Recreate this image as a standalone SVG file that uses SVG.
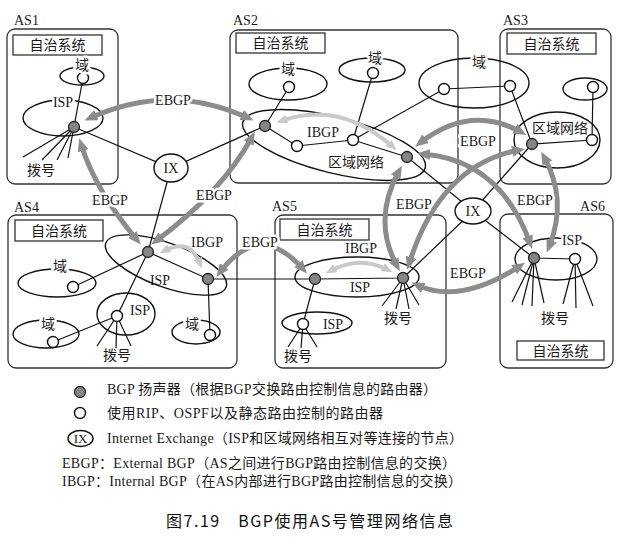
<svg xmlns="http://www.w3.org/2000/svg" width="624" height="538" viewBox="0 0 624 538">
<defs>
<style>
.box{fill:none;stroke:#333;stroke-width:1.3}
.tb{fill:#fff;stroke:#333;stroke-width:1.3}
.el{fill:none;stroke:#111;stroke-width:1.4}
.ln{fill:none;stroke:#111;stroke-width:1.2}
.g{fill:#858585;stroke:#222;stroke-width:1.3}
.o{fill:#fff;stroke:#111;stroke-width:1.4}
.ix{fill:#fff;stroke:#111;stroke-width:1.4}
.eb{fill:none;stroke:#8c8c8c;stroke-width:5}
.ib{fill:none;stroke:#c9c9c9;stroke-width:4}
text{font-family:"Liberation Serif","Noto Sans CJK SC",serif;font-size:14px;fill:#1a1a1a}
.c{text-anchor:middle}
.h{stroke:#fff;stroke-width:5;stroke-linejoin:round;paint-order:stroke}
.cap{font-family:"Noto Sans CJK SC",sans-serif;font-size:16px;fill:#111}
</style>
<marker id="ae" viewBox="0 0 13 11" markerWidth="13" markerHeight="11" refX="7" refY="5.5" orient="auto-start-reverse" markerUnits="userSpaceOnUse"><path d="M0,0L13,5.5L0,11z" fill="#8c8c8c"/></marker>
<marker id="ai" viewBox="0 0 11 9" markerWidth="11" markerHeight="9" refX="6" refY="4.5" orient="auto-start-reverse" markerUnits="userSpaceOnUse"><path d="M0,0L11,4.5L0,9z" fill="#c9c9c9"/></marker>
</defs>
<rect width="624" height="538" fill="#fff"/>

<!-- AS boxes -->
<g id="as1">
<rect class="box" x="7" y="29" width="111" height="155" rx="8"/>
<text x="14" y="25">AS1</text>
<rect class="tb" x="13" y="35" width="89" height="20"/>
<text class="c" x="57.5" y="50">自治系统</text>
</g>
<g id="as2">
<rect class="box" x="230" y="30" width="228" height="153" rx="8"/>
<text x="233" y="25">AS2</text>
<rect class="tb" x="236" y="33" width="89" height="20"/>
<text class="c" x="280.5" y="48">自治系统</text>
</g>
<g id="as3">
<rect class="box" x="500" y="29" width="111" height="155" rx="8"/>
<text x="503" y="25">AS3</text>
<rect class="tb" x="507" y="33" width="89" height="21"/>
<text class="c" x="551.5" y="49">自治系统</text>
</g>
<g id="as4">
<rect class="box" x="8" y="215" width="229" height="153" rx="8"/>
<text x="14" y="212">AS4</text>
<rect class="tb" x="15" y="220" width="88" height="21"/>
<text class="c" x="59" y="236">自治系统</text>
</g>
<g id="as5">
<rect class="box" x="275" y="215" width="171" height="153" rx="8"/>
<text x="272" y="211">AS5</text>
<rect class="tb" x="280" y="219" width="89" height="21"/>
<text class="c" x="324.5" y="235">自治系统</text>
</g>
<g id="as6">
<rect class="box" x="500" y="214" width="113" height="154" rx="8"/>
<text x="605" y="211" text-anchor="end">AS6</text>
<rect class="tb" x="517" y="341" width="87" height="19"/>
<text class="c" x="560.5" y="355.5">自治系统</text>
</g>

<!-- network ellipses -->
<g id="networks">
<ellipse class="el" cx="82" cy="76" rx="22" ry="9"/>
<ellipse class="el" cx="63" cy="118" rx="40" ry="18"/>
<ellipse class="el" cx="288" cy="84" rx="39" ry="16"/>
<ellipse class="el" cx="372" cy="70" rx="33" ry="12"/>
<ellipse class="el" cx="474" cy="83" rx="55" ry="25"/>
<ellipse class="el" cx="334" cy="145" rx="94" ry="28" transform="rotate(14 334 145)"/>
<ellipse class="el" cx="585" cy="89" rx="22" ry="11"/>
<ellipse class="el" cx="557" cy="140" rx="43" ry="28"/>
<ellipse class="el" cx="166" cy="265" rx="64" ry="22" transform="rotate(20 166 265)"/>
<ellipse class="el" cx="57" cy="283" rx="39" ry="14"/>
<ellipse class="el" cx="46" cy="334" rx="33" ry="14"/>
<ellipse class="el" cx="126" cy="314" rx="29" ry="21"/>
<ellipse class="el" cx="196" cy="332" rx="24" ry="12"/>
<ellipse class="el" cx="357" cy="277" rx="62" ry="20"/>
<ellipse class="el" cx="317" cy="323" rx="35" ry="11"/>
<ellipse class="el" cx="556" cy="259" rx="41" ry="21"/>
</g>

<!-- connectors -->
<g id="connectors">
<path class="ln" d="M74,127L83,78M74,127L171,168L265,126M171,168L148,252L117,316
M265,126L289,87M265,126L297,146L353,140L407,157M353,140L373,73M353,140L444,89L510,86L532,144L592,140L593,87
M407,157L473,211L532,144M473,211L534,258L575,259M473,211L403,278
M148,252L208,279L315,279L403,278M148,252L73,287M208,279L210,335M117,316L53,342M315,279L303,324"/>
<path class="ln" d="M74,127L23,157M74,127L42,160M74,127L57,160M74,127L68,158
M117,316L97,346M117,316L116,348M117,316L131,346
M303,324L288,347M303,324L301,348M303,324L317,347
M403,278L382,306M403,278L396,309M403,278L409,309M403,278L419,305
M534,258L512,302M534,258L522,305M534,258L532,306M534,258L544,303
M575,259L563,304M575,259L576,308M575,259L593,306"/>
<!-- EBGP -->
<path class="eb" d="M90,118Q170,82 248,118" marker-start="url(#ae)" marker-end="url(#ae)"/>
<path class="eb" d="M81,144Q95,190 137,240" marker-start="url(#ae)" marker-end="url(#ae)"/>
<path class="eb" d="M252,137Q222,192 156,241" marker-start="url(#ae)" marker-end="url(#ae)"/>
<path class="eb" d="M220,272Q260,220 303,269" marker-start="url(#ae)" marker-end="url(#ae)"/>
<path class="eb" d="M399,171Q372,220 397,266" marker-start="url(#ae)" marker-end="url(#ae)"/>
<path class="eb" d="M420,143Q470,104 521,132" marker-start="url(#ae)" marker-end="url(#ae)"/>
<path class="eb" d="M423,154Q500,160 530,243" marker-start="url(#ae)" marker-end="url(#ae)"/>
<path class="eb" d="M519,150Q440,165 409,264" marker-start="url(#ae)" marker-end="url(#ae)"/>
<path class="eb" d="M544,157Q568,200 549,247" marker-start="url(#ae)" marker-end="url(#ae)"/>
<path class="eb" d="M417,285Q460,305 520,266" marker-start="url(#ae)" marker-end="url(#ae)"/>
<!-- IBGP -->
<path class="ib" d="M281,121Q340,100 393,147" marker-start="url(#ai)" marker-end="url(#ai)"/>
<path class="ib" d="M164,251Q190,237 200,264" marker-start="url(#ai)" marker-end="url(#ai)"/>
<path class="ib" d="M330,271Q360,255 388,270" marker-start="url(#ai)" marker-end="url(#ai)"/>
</g>

<!-- routers -->
<g id="ix1"><ellipse class="ix" cx="171" cy="168" rx="17" ry="14"/><text class="c" x="171" y="173">IX</text></g>
<g id="ix2"><ellipse class="ix" cx="473" cy="211" rx="18" ry="13"/><text class="c" x="473" y="216">IX</text></g>
<g id="as1-bgp"><circle class="g" cx="74" cy="127" r="5.5"/></g>
<g id="as1-r1"><circle class="o" cx="83" cy="78" r="5.5"/></g>
<g id="as2-bgp1"><circle class="g" cx="265" cy="126" r="5.5"/></g>
<g id="as2-bgp2"><circle class="g" cx="407" cy="157" r="5.5"/></g>
<g id="as2-r1"><circle class="o" cx="297" cy="146" r="5.5"/></g>
<g id="as2-r2"><circle class="o" cx="353" cy="140" r="5.5"/></g>
<g id="as2-r3"><circle class="o" cx="289" cy="87" r="5.5"/></g>
<g id="as2-r4"><circle class="o" cx="373" cy="73" r="5.5"/></g>
<g id="as2-r5"><circle class="o" cx="444" cy="89" r="5.5"/></g>
<g id="as3-bgp"><circle class="g" cx="532" cy="144" r="5.5"/></g>
<g id="as3-r1"><circle class="o" cx="592" cy="140" r="5.5"/></g>
<g id="as3-r2"><circle class="o" cx="593" cy="87" r="5.5"/></g>
<g id="as3-r3"><circle class="o" cx="510" cy="86" r="5.5"/></g>
<g id="as4-bgp1"><circle class="g" cx="148" cy="252" r="5.5"/></g>
<g id="as4-bgp2"><circle class="g" cx="208" cy="279" r="5.5"/></g>
<g id="as4-r1"><circle class="o" cx="73" cy="287" r="5.5"/></g>
<g id="as4-r2"><circle class="o" cx="53" cy="342" r="5.5"/></g>
<g id="as4-r3"><circle class="o" cx="117" cy="316" r="5.5"/></g>
<g id="as4-r4"><circle class="o" cx="210" cy="335" r="5.5"/></g>
<g id="as5-bgp1"><circle class="g" cx="315" cy="279" r="5.5"/></g>
<g id="as5-bgp2"><circle class="g" cx="403" cy="278" r="5.5"/></g>
<g id="as5-r1"><circle class="o" cx="303" cy="324" r="5.5"/></g>
<g id="as6-bgp"><circle class="g" cx="534" cy="258" r="5.5"/></g>
<g id="as6-r1"><circle class="o" cx="575" cy="259" r="5.5"/></g>

<!-- labels -->
<g id="labels">
<text class="c h" x="82" y="70">域</text>
<text class="c h" x="63" y="107">ISP</text>
<text class="c" x="41" y="175">拨号</text>
<text class="c h" x="288" y="74">域</text>
<text class="c h" x="375" y="63">域</text>
<text class="c h" x="479" y="67">域</text>
<text class="c" x="323" y="137">IBGP</text>
<text class="c" x="356" y="167">区域网络</text>
<text class="c" x="560" y="133">区域网络</text>
<text class="c" x="207" y="247">IBGP</text>
<text class="c" x="160" y="285">ISP</text>
<text class="c h" x="60" y="271">域</text>
<text class="c h" x="48" y="329">域</text>
<text class="c" x="140" y="315">ISP</text>
<text class="c h" x="192" y="329">域</text>
<text class="c" x="117" y="360">拨号</text>
<text class="c" x="361" y="253">IBGP</text>
<text class="c" x="360" y="292">ISP</text>
<text class="c" x="333" y="329">ISP</text>
<text class="c" x="298" y="361">拨号</text>
<text class="c" x="398" y="323">拨号</text>
<text class="c h" x="572" y="245">ISP</text>
<text class="c" x="555" y="323">拨号</text>
<text class="c h" x="173" y="105">EBGP</text>
<text class="c h" x="110" y="205">EBGP</text>
<text class="c h" x="214" y="200">EBGP</text>
<text class="c h" x="260" y="247">EBGP</text>
<text class="c h" x="414" y="209">EBGP</text>
<text class="c h" x="478" y="146">EBGP</text>
<text class="c h" x="535" y="205">EBGP</text>
<text class="c h" x="468" y="278">EBGP</text>
</g>

<!-- legend -->
<g id="legend">
<circle class="g" cx="80" cy="392" r="5.5"/>
<text x="107" y="394" textLength="330" lengthAdjust="spacing">BGP 扬声器（根据BGP交换路由控制信息的路由器）</text>
<circle class="o" cx="80" cy="413" r="5.5"/>
<text x="107" y="418" textLength="276" lengthAdjust="spacing">使用RIP、OSPF以及静态路由控制的路由器</text>
<ellipse class="ix" cx="80.5" cy="438.5" rx="12.5" ry="8"/>
<text class="c" x="80.5" y="443" style="font-size:13px">IX</text>
<text x="107" y="443" textLength="356" lengthAdjust="spacing">Internet Exchange（ISP和区域网络相互对等连接的节点）</text>
<text x="62" y="468" textLength="394" lengthAdjust="spacing">EBGP：External BGP（AS之间进行BGP路由控制信息的交换）</text>
<text x="62" y="485.5" textLength="400" lengthAdjust="spacing">IBGP：Internal BGP（在AS内部进行BGP路由控制信息的交换）</text>
</g>
<g id="caption">
<text class="cap" x="166" y="527" textLength="287" lengthAdjust="spacing">图7.19　BGP使用AS号管理网络信息</text>
</g>
</svg>
